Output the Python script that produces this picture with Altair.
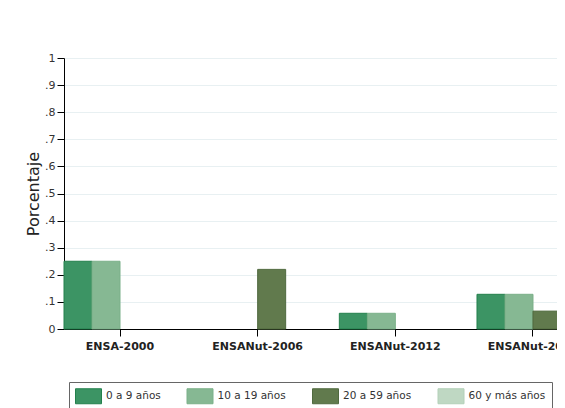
import altair as alt
import pandas as pd

# ---- data ----
encuestas = ["ENSA-2000", "ENSANut-2006", "ENSANut-2012", "ENSANut-2018"]
grupos = ["0 a 9 años", "10 a 19 años", "20 a 59 años", "60 y más años"]
v_0_9 = [0.25, 0.0, 0.058, 0.128]
v_10_19 = [0.25, 0.0, 0.058, 0.128]
v_20_59 = [0.0, 0.22, 0.0, 0.066]
v_60_mas = [0.0, 0.0, 0.0, 0.0]
y_ticks = [0, 0.1, 0.2, 0.3, 0.4, 0.5, 0.6, 0.7, 0.8, 0.9, 1]

fill_colors = ["#3c9464", "#86b893", "#617a4d", "#bfd8c3"]
stroke_colors = ["#23804c", "#7bb089", "#506a3f", "#b3d0b8"]

series = [v_0_9, v_10_19, v_20_59, v_60_mas]
rows = []
for g, vals in zip(grupos, series):
    for e, v in zip(encuestas, vals):
        rows.append({"encuesta": e, "grupo": g, "valor": v})
df = pd.DataFrame(rows)

leg = alt.Legend(
    orient="none", legendX=5, legendY=324, direction="horizontal", columns=4,
    title=None, symbolType="M-1,-1H2.467V1H-1Z", symbolSize=225,
    symbolStrokeWidth=1, labelOffset=15, columnPadding=23.5, padding=6,
    labelFontSize=10.5, labelColor="#333333", labelFont="DejaVu Sans",
    strokeColor="#666666", fillColor="white",
)

bars = alt.Chart(df).transform_filter(
    alt.datum.valor > 0
).mark_bar(strokeWidth=1).encode(
    x=alt.X(
        "encuesta:N", sort=encuestas, title=None,
        scale=alt.Scale(domain=encuestas, range=[0, 525], paddingInner=0.1864,
                        paddingOuter=0),
        axis=alt.Axis(labelAngle=0, labelFontWeight="bold", labelFontSize=11,
                      labelColor="#222222", tickSize=7, tickColor="black",
                      domainColor="black", labelPadding=4, grid=False,
                      labelOverlap=False),
    ),
    xOffset=alt.XOffset("grupo:N", sort=grupos,
                        scale=alt.Scale(domain=grupos, paddingInner=0,
                                        paddingOuter=0)),
    y=alt.Y(
        "valor:Q", scale=alt.Scale(domain=[0, 1], nice=False),
        axis=alt.Axis(
            values=y_ticks,
            labelExpr="datum.value == 0 ? '0' : datum.value == 1 ? '1' : replace(format(datum.value, '.1f'), '0.', '.')",
            tickSize=7, tickColor="black", domainColor="black",
            labelFontSize=11, labelColor="#333333", labelPadding=2,
            grid=True, gridColor="#e8f0f2", title="Porcentaje",
            titleFontSize=16, titleFontWeight="normal", titleColor="#222222",
            titleAngle=270, titleX=-26, titleY=135.5, titleAlign="center",
            titleBaseline="alphabetic",
        ),
    ),
    color=alt.Color("grupo:N", sort=grupos,
                    scale=alt.Scale(domain=grupos, range=fill_colors), legend=leg),
    stroke=alt.Stroke("grupo:N", sort=grupos,
                      scale=alt.Scale(domain=grupos, range=stroke_colors), legend=leg),
)

chart = bars.properties(
    width=493, height=271,
    padding={"left": 56, "top": 50, "right": 0, "bottom": 79},
    autosize=alt.AutoSizeParams(type="none"),
).configure(font="DejaVu Sans", background="white").configure_view(stroke=None)

chart.save("out.html", embed_options={"renderer": "svg", "actions": False})
